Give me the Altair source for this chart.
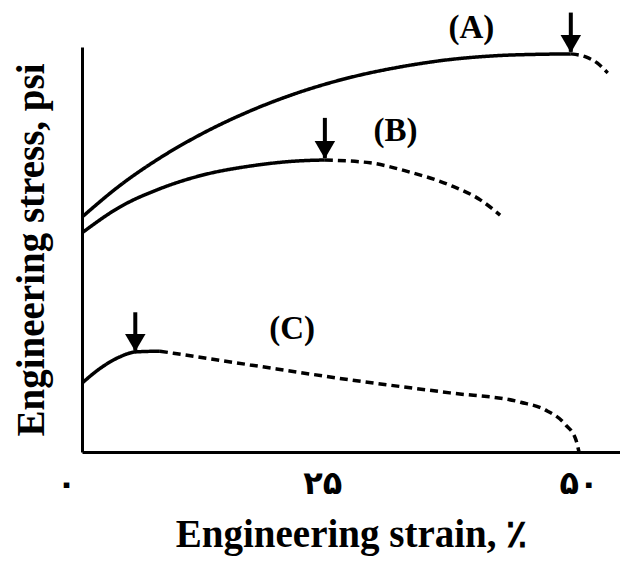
import altair as alt
import pandas as pd

# Curve A (uniform deformation, then necking)
a_strain = [1.5, 5.2, 9.1, 13.0, 17.9, 22.8, 27.7, 32.6, 37.4, 42.3, 46.2, 49.2]
a_stress = [58.0, 65.8, 72.6, 78.3, 84.2, 88.9, 92.5, 95.1, 96.9, 97.9, 98.2, 98.3]
a_neck_strain = [49.2, 50.6, 51.8, 52.8]
a_neck_stress = [98.3, 97.6, 96.0, 93.6]

# Curve B
b_strain = [1.5, 5.2, 9.1, 13.0, 17.9, 22.8, 25.2]
b_stress = [54.1, 60.5, 65.0, 68.2, 70.6, 71.9, 72.1]
b_neck_strain = [25.2, 29.6, 33.5, 37.4, 40.4, 42.3]
b_neck_stress = [72.1, 71.4, 69.1, 65.9, 62.2, 58.5]

# Curve C
c_strain = [1.5, 3.3, 5.2, 6.7, 9.1]
c_stress = [17.0, 20.7, 23.5, 24.7, 24.9]
c_neck_strain = [9.1, 17.9, 27.7, 37.4, 44.3, 46.7, 48.7, 49.7, 50.0]
c_neck_stress = [24.9, 21.5, 17.8, 14.6, 12.3, 10.4, 6.7, 3.0, 0.0]

# Arrows marking onset of necking
arrow_strain = [49.2, 25.2, 6.7]
arrow_top = [108.5, 82.5, 34.5]
arrow_tip = [98.8, 72.6, 25.0]

# Curve labels
label_text = ["(A)", "(B)", "(C)"]
label_strain = [39.5, 32.1, 22.0]
label_stress = [104.7, 79.3, 30.4]

# Tick labels
tick_values = [0, 25, 50]
tick_labels = ["۰", "۲۵", "۵۰"]

rows = []
for name, pieces in [
    ("A", [("uniform", a_strain, a_stress), ("necking", a_neck_strain, a_neck_stress)]),
    ("B", [("uniform", b_strain, b_stress), ("necking", b_neck_strain, b_neck_stress)]),
    ("C", [("uniform", c_strain, c_stress), ("necking", c_neck_strain, c_neck_stress)]),
]:
    for seg, xs, ys in pieces:
        for i, (x, y) in enumerate(zip(xs, ys)):
            rows.append({"curve": name, "seg": seg, "key": name + seg, "i": i,
                         "strain": x, "stress": y})
curves = pd.DataFrame(rows)
arrows = pd.DataFrame({"strain": arrow_strain, "top": arrow_top, "tip": arrow_tip})
labels = pd.DataFrame({"text": label_text, "strain": label_strain, "stress": label_stress})
ticks = pd.DataFrame({"v": tick_values, "t": tick_labels})

xs = alt.Scale(domain=[1.5, 54.0], nice=False, zero=False)
ys = alt.Scale(domain=[0, 100], nice=False, zero=False)

xaxis = alt.Axis(title="Engineering strain, ٪", labels=False, ticks=False, grid=False,
                 domainColor="black", domainWidth=3, titleFont="Liberation Serif",
                 titleFontSize=39, titleFontWeight="bold", titleColor="black",
                 titlePadding=63)
yaxis = alt.Axis(title="Engineering stress,  psi", labels=False, ticks=False, grid=False,
                 domainColor="black", domainWidth=3, titleFont="Liberation Serif",
                 titleFontSize=39, titleFontWeight="bold", titleColor="black",
                 titlePadding=31)

lines = alt.Chart(curves).mark_line(color="black", strokeWidth=3.5,
                                    interpolate="monotone").encode(
    x=alt.X("strain:Q", scale=xs, axis=xaxis),
    y=alt.Y("stress:Q", scale=ys, axis=yaxis),
    detail="key:N",
    order="i:Q",
    strokeDash=alt.StrokeDash("seg:N", scale=alt.Scale(domain=["uniform", "necking"],
                                                       range=[[1, 0], [8, 5]]), legend=None),
)

shafts = alt.Chart(arrows).mark_rule(color="black", strokeWidth=4).encode(
    x=alt.X("strain:Q", scale=xs), y=alt.Y("top:Q", scale=ys), y2="tip:Q")
heads = alt.Chart(arrows).mark_point(shape="triangle-down", filled=True, color="black",
                                     size=420, opacity=1, yOffset=-8).encode(
    x=alt.X("strain:Q", scale=xs), y=alt.Y("tip:Q", scale=ys))

texts = alt.Chart(labels).mark_text(font="Liberation Serif", fontSize=33, fontWeight="bold",
                                    color="black").encode(
    x=alt.X("strain:Q", scale=xs), y=alt.Y("stress:Q", scale=ys), text="text:N")

tick_text = alt.Chart(ticks).mark_text(font="DejaVu Sans", fontSize=32, fontWeight="bold",
                                       color="black", baseline="middle").encode(
    x=alt.X("v:Q", scale=xs), y=alt.value(437), text="t:N")

chart = alt.layer(lines, shafts, heads, texts, tick_text).properties(
    width=538, height=405,
    autosize=alt.AutoSizeParams(type="none"),
    padding={"left": 74, "top": 39, "right": 0, "bottom": 110},
    background="white",
).configure_view(stroke=None)

chart.save("out.html", embed_options={"renderer": "svg", "actions": False})
